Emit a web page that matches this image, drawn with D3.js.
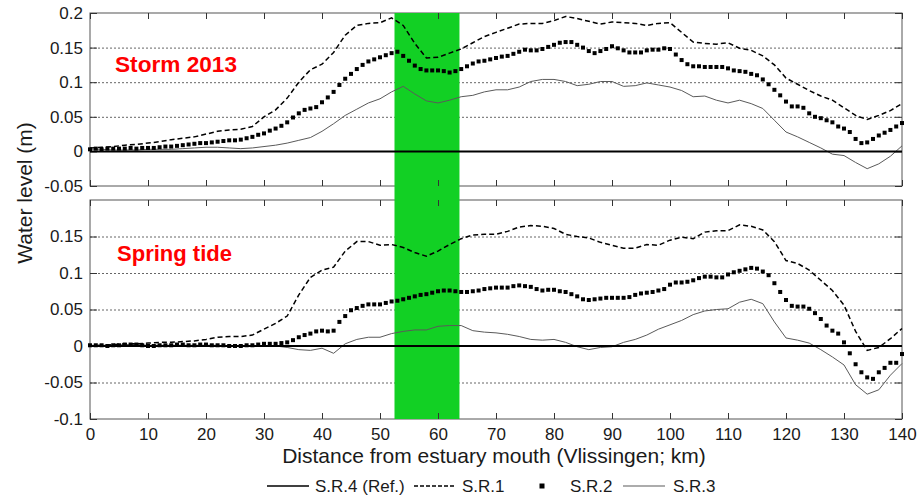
<!DOCTYPE html>
<html>
<head>
<meta charset="utf-8">
<script src="https://cdn.jsdelivr.net/npm/d3@7"></script>
<style>
  body { margin: 0; background: #fff; }
  text { font-family: "Liberation Sans", Arial, sans-serif; fill: #1a1a1a; }
</style>
</head>
<body>
<div id="chart"></div>
<script>
// sample positions (km from Vlissingen)
const kmLine = d3.range(0, 141, 2);
const kmDot = d3.range(0, 141, 1);

// Storm 2013 panel
const stormSR1 = [0.005,0.006,0.007,0.009,0.010,0.012,0.014,0.017,0.019,0.021,0.025,0.029,0.031,0.032,0.036,0.050,0.060,0.077,0.100,0.118,
  0.126,0.143,0.168,0.182,0.185,0.186,0.193,0.182,0.156,0.135,0.136,0.142,0.148,0.157,0.166,0.172,0.178,0.184,0.185,0.185,
  0.189,0.195,0.192,0.188,0.184,0.187,0.186,0.185,0.182,0.185,0.186,0.172,0.158,0.156,0.155,0.157,0.149,0.146,0.138,0.125,
  0.106,0.097,0.088,0.080,0.074,0.063,0.052,0.046,0.052,0.059,0.069];
const stormSR2 = [0.003,0.004,0.003,0.004,0.004,0.004,0.004,0.005,0.004,0.005,0.005,0.005,0.006,0.007,0.007,0.008,0.009,0.010,0.011,0.012,
  0.012,0.013,0.014,0.015,0.016,0.016,0.017,0.019,0.021,0.024,0.026,0.030,0.033,0.037,0.042,0.049,0.055,0.060,0.062,0.064,
  0.071,0.078,0.086,0.096,0.105,0.112,0.119,0.125,0.130,0.133,0.136,0.139,0.142,0.144,0.138,0.131,0.124,0.119,0.117,0.117,
  0.117,0.116,0.114,0.116,0.119,0.123,0.127,0.130,0.131,0.133,0.135,0.137,0.138,0.141,0.144,0.147,0.146,0.146,0.148,0.151,
  0.154,0.157,0.158,0.158,0.154,0.150,0.145,0.142,0.145,0.148,0.152,0.149,0.146,0.143,0.143,0.143,0.146,0.147,0.147,0.149,
  0.148,0.140,0.132,0.126,0.123,0.123,0.122,0.122,0.122,0.122,0.120,0.117,0.116,0.115,0.112,0.110,0.104,0.097,0.089,0.081,
  0.072,0.065,0.065,0.063,0.055,0.050,0.048,0.045,0.042,0.036,0.033,0.028,0.018,0.012,0.013,0.018,0.023,0.027,0.031,0.036,0.041];
const stormSR3 = [0.003,0.003,0.002,0.002,0.002,0.003,0.003,0.003,0.004,0.005,0.006,0.006,0.005,0.004,0.005,0.007,0.009,0.012,0.016,0.020,
  0.029,0.040,0.052,0.061,0.070,0.076,0.086,0.094,0.083,0.073,0.070,0.074,0.079,0.081,0.086,0.089,0.089,0.093,0.101,0.104,
  0.104,0.101,0.095,0.097,0.101,0.101,0.094,0.095,0.099,0.096,0.093,0.088,0.079,0.080,0.074,0.070,0.074,0.069,0.062,0.045,
  0.028,0.021,0.013,0.005,-0.004,-0.006,-0.016,-0.025,-0.018,-0.007,0.008];

// Spring tide panel
const springSR1 = [0.000,0.001,0.002,0.003,0.003,0.004,0.005,0.005,0.006,0.007,0.009,0.012,0.013,0.013,0.015,0.023,0.031,0.041,0.070,0.094,
  0.104,0.108,0.130,0.143,0.143,0.138,0.139,0.135,0.128,0.123,0.130,0.139,0.147,0.152,0.153,0.153,0.157,0.163,0.165,0.164,
  0.161,0.153,0.150,0.148,0.142,0.138,0.134,0.134,0.139,0.138,0.145,0.149,0.147,0.156,0.158,0.158,0.166,0.164,0.159,0.143,
  0.117,0.113,0.104,0.090,0.076,0.056,0.020,-0.006,-0.002,0.010,0.024];
const springSR2 = [0.001,0.001,0.001,0.000,0.001,0.001,0.002,0.002,0.002,0.001,0.000,0.000,0.001,0.001,0.001,0.002,0.002,0.001,0.001,0.002,
  0.002,0.001,0.001,0.001,0.000,0.000,0.000,0.001,0.001,0.002,0.003,0.003,0.003,0.004,0.005,0.008,0.012,0.015,0.017,0.020,
  0.021,0.020,0.021,0.033,0.041,0.049,0.052,0.055,0.057,0.057,0.057,0.059,0.061,0.062,0.064,0.066,0.068,0.070,0.071,0.073,
  0.075,0.076,0.076,0.075,0.074,0.074,0.075,0.076,0.078,0.079,0.080,0.080,0.080,0.082,0.083,0.082,0.081,0.078,0.076,0.077,
  0.077,0.075,0.074,0.071,0.068,0.064,0.063,0.064,0.065,0.066,0.066,0.066,0.066,0.067,0.070,0.072,0.073,0.074,0.076,0.078,
  0.084,0.087,0.087,0.088,0.090,0.093,0.095,0.095,0.094,0.094,0.098,0.101,0.103,0.105,0.107,0.106,0.102,0.097,0.086,0.074,
  0.063,0.055,0.054,0.054,0.051,0.045,0.037,0.028,0.021,0.017,0.005,-0.010,-0.025,-0.036,-0.043,-0.045,-0.036,-0.030,-0.023,-0.023,-0.011];
const springSR3 = [0.001,0.001,0.001,0.002,0.002,0.001,0.001,0.001,0.001,0.001,0.001,0.001,0.000,0.000,0.000,0.000,0.000,-0.002,-0.005,-0.006,
  -0.003,-0.010,0.003,0.009,0.012,0.012,0.017,0.020,0.022,0.022,0.027,0.028,0.028,0.021,0.019,0.018,0.016,0.013,0.009,0.008,
  0.009,0.005,-0.001,-0.005,-0.002,-0.001,0.005,0.009,0.015,0.023,0.029,0.035,0.043,0.048,0.050,0.051,0.060,0.064,0.058,0.033,
  0.011,0.008,0.004,-0.005,-0.015,-0.026,-0.053,-0.066,-0.060,-0.040,-0.024];

const panelNames = ["Storm 2013", "Spring tide"];
const yTicksStorm = [0.2, 0.15, 0.1, 0.05, 0, -0.05];
const yTicksSpring = [0.15, 0.1, 0.05, 0, -0.05, -0.1];
const xTicks = d3.range(0, 141, 10);
const highlightKm = [52.5, 63.7];
const legendNames = ["S.R.4 (Ref.)", "S.R.1", "S.R.2", "S.R.3"];

const w = 917, h = 497, left = 90, right = 902;

const svg = d3.select("#chart").append("svg")
  .attr("width", w)
  .attr("height", h);

const x = d3.scaleLinear().domain([0, 140]).range([left, right]);

const panels = [
  { name: panelNames[0], sr1: stormSR1, sr2: stormSR2, sr3: stormSR3, ticks: yTicksStorm,
    y: d3.scaleLinear().domain([-0.05, 0.2]).range([186, 13]), labels: false, tx: 115, ty: 59, tw: 122 },
  { name: panelNames[1], sr1: springSR1, sr2: springSR2, sr3: springSR3, ticks: yTicksSpring,
    y: d3.scaleLinear().domain([-0.1, 0.2]).range([419, 200]), labels: true, tx: 117, ty: 61, tw: 115 }
];

const gridLayer = svg.append("g");
const bandLayer = svg.append("g");
const dataLayer = svg.append("g");

const styleText = (sel, size) => sel.attr("font-size", size).attr("fill", "#1a1a1a")
  .attr("font-family", "Liberation Sans, Arial, sans-serif");

panels.forEach(p => {
  const [yb, yt] = p.y.range();
  const grid = p.ticks.filter(t => t !== 0 && t > p.y.domain()[0] && t < p.y.domain()[1]);

  gridLayer.append("g")
    .attr("transform", "translate(" + left + ",0)")
    .call(d3.axisLeft(p.y).tickValues(grid).tickSize(-(right - left)).tickFormat(""))
    .call(a => {
      a.select(".domain").remove();
      a.selectAll("line").attr("stroke", "#666").attr("stroke-dasharray", "2,2");
    });

  gridLayer.append("rect")
    .attr("x", left).attr("y", yt)
    .attr("width", right - left).attr("height", yb - yt)
    .attr("fill", "none").attr("stroke", "#555");

  // y ticks (inward) with labels on the left, bare ticks on the right
  dataLayer.append("g")
    .attr("transform", "translate(" + left + ",0)")
    .call(d3.axisLeft(p.y).tickValues(p.ticks).tickSizeInner(-7).tickSizeOuter(0).tickPadding(7)
      .tickFormat(d => String(d)))
    .call(a => {
      a.select(".domain").remove();
      a.selectAll("line").attr("stroke", "#333");
      styleText(a.selectAll("text"), 17);
    });
  dataLayer.append("g")
    .attr("transform", "translate(" + right + ",0)")
    .call(d3.axisRight(p.y).tickValues(p.ticks).tickSizeInner(-7).tickSizeOuter(0).tickFormat(""))
    .call(a => {
      a.select(".domain").remove();
      a.selectAll("line").attr("stroke", "#333");
    });

  // x ticks, inward, top and bottom
  dataLayer.append("g")
    .attr("transform", "translate(0," + yb + ")")
    .call(d3.axisBottom(x).tickValues(xTicks).tickSizeInner(-6).tickSizeOuter(0).tickPadding(9)
      .tickFormat(p.labels ? d3.format("d") : ""))
    .call(a => {
      a.select(".domain").remove();
      a.selectAll("line").attr("stroke", "#333");
      styleText(a.selectAll("text"), 17);
    });
  dataLayer.append("g")
    .attr("transform", "translate(0," + yt + ")")
    .call(d3.axisTop(x).tickValues(xTicks).tickSizeInner(-6).tickSizeOuter(0).tickFormat(""))
    .call(a => {
      a.select(".domain").remove();
      a.selectAll("line").attr("stroke", "#333");
    });

  // S.R.3
  dataLayer.append("path")
    .datum(p.sr3)
    .attr("fill", "none").attr("stroke", "#5a5a5a").attr("stroke-width", 1)
    .attr("d", d3.line().x((d, i) => x(kmLine[i])).y(d => p.y(d)));

  // S.R.1
  dataLayer.append("path")
    .datum(p.sr1)
    .attr("fill", "none").attr("stroke", "#000").attr("stroke-width", 1.5)
    .attr("stroke-dasharray", "5,3")
    .attr("d", d3.line().x((d, i) => x(kmLine[i])).y(d => p.y(d)));

  // S.R.4 reference (zero)
  dataLayer.append("line")
    .attr("x1", x(0)).attr("x2", x(140))
    .attr("y1", p.y(0)).attr("y2", p.y(0))
    .attr("stroke", "#000").attr("stroke-width", 2);

  // S.R.2 squares
  dataLayer.append("g").selectAll("rect")
    .data(p.sr2)
    .enter()
    .append("rect")
    .attr("x", (d, i) => x(kmDot[i]) - 2)
    .attr("y", d => p.y(d) - 2)
    .attr("width", 4).attr("height", 4)
    .attr("fill", "#000");

  dataLayer.append("text")
    .attr("x", p.tx).attr("y", yt + p.ty)
    .attr("font-family", "Lato, 'Liberation Sans', sans-serif")
    .attr("font-weight", "bold").attr("font-size", 22)
    .attr("textLength", p.tw).attr("lengthAdjust", "spacingAndGlyphs")
    .style("fill", "#ff0000")
    .text(p.name);
});

// green highlight band over both panels
bandLayer.append("rect")
  .attr("x", x(highlightKm[0]))
  .attr("y", panels[0].y.range()[1])
  .attr("width", x(highlightKm[1]) - x(highlightKm[0]))
  .attr("height", panels[1].y.range()[0] - panels[0].y.range()[1])
  .attr("fill", "#12d024");

svg.append("text")
  .attr("transform", "translate(32,193) rotate(-90)")
  .attr("text-anchor", "middle")
  .attr("font-size", 21)
  .text("Water level (m)");

svg.append("text")
  .attr("x", 494).attr("y", 463)
  .attr("text-anchor", "middle")
  .attr("font-size", 21)
  .text("Distance from estuary mouth (Vlissingen; km)");

// legend
const legend = svg.append("g").attr("id", "legend");
const ly = 486;
const legendX = [267, 414, 542, 623];
const legendTextX = [315, 462, 570, 673];
legendNames.forEach((n, i) => {
  const lx = legendX[i];
  if (i === 2) {
    legend.append("rect").attr("x", lx - 2.5).attr("y", ly - 2.5).attr("width", 5).attr("height", 5).attr("fill", "#000");
  } else {
    legend.append("line")
      .attr("x1", lx).attr("x2", lx + 42).attr("y1", ly).attr("y2", ly)
      .attr("stroke", i === 3 ? "#5a5a5a" : "#000")
      .attr("stroke-width", i === 3 ? 1.2 : 1.5)
      .attr("stroke-dasharray", i === 1 ? "4,2" : null);
  }
  legend.append("text")
    .attr("x", legendTextX[i]).attr("y", ly + 6)
    .attr("font-size", 17)
    .text(n);
});
</script>
</body>
</html>
